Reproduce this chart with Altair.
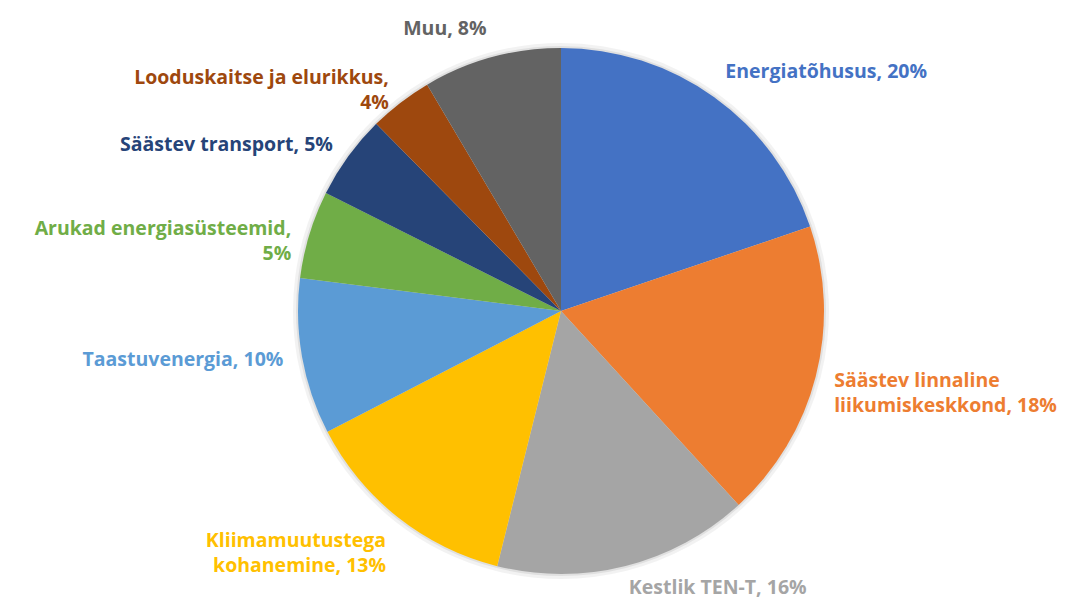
import math
import altair as alt
import pandas as pd

categories = [
    "Energiatõhusus",
    "Säästev linnaline liikumiskeskkond",
    "Kestlik TEN-T",
    "Kliimamuutustega kohanemine",
    "Taastuvenergia",
    "Arukad energiasüsteemid",
    "Säästev transport",
    "Looduskaitse ja elurikkus",
    "Muu",
]
shares = [19.8, 18.4, 15.7, 13.5, 9.6, 5.4, 5.2, 3.9, 8.5]
labels = [
    "Energiatõhusus, 20%",
    "Säästev linnaline\nliikumiskeskkond, 18%",
    "Kestlik TEN-T, 16%",
    "Kliimamuutustega\nkohanemine, 13%",
    "Taastuvenergia, 10%",
    "Arukad energiasüsteemid,\n5%",
    "Säästev transport, 5%",
    "Looduskaitse ja elurikkus,\n4%",
    "Muu, 8%",
]
colors = ["#4472C4", "#ED7D31", "#A5A5A5", "#FFC000", "#5B9BD5",
          "#70AD47", "#264478", "#9E480E", "#636363"]

df = pd.DataFrame({
    "category": categories,
    "share": shares,
    "label": labels,
    "order": list(range(len(categories))),
})

color_scale = alt.Scale(domain=categories, range=colors)
FONT = "Open Sans"
FS = 19.5

base = alt.Chart(df)

shadow1 = base.mark_arc(radius=268, color="#000000", opacity=0.05).encode(
    theta=alt.Theta("share:Q", stack=True),
    order=alt.Order("order:Q"),
)
shadow2 = base.mark_arc(radius=265, color="#000000", opacity=0.07).encode(
    theta=alt.Theta("share:Q", stack=True),
    order=alt.Order("order:Q"),
)

pie = base.mark_arc(radius=263).encode(
    theta=alt.Theta("share:Q", stack=True),
    color=alt.Color("category:N", scale=color_scale, legend=None),
    order=alt.Order("order:Q"),
)

lab_base = base.transform_window(
    cum="sum(share)", sort=[alt.SortField("order")]
).transform_calculate(
    mid="datum.cum - datum.share / 2"
)

theta_lab = alt.Theta("mid:Q", scale=alt.Scale(domain=[0, 100], range=[0, 2 * math.pi]))


def zone(lo, hi, align, baseline, radius=282):
    return lab_base.transform_filter(
        f"datum.mid >= {lo} && datum.mid < {hi}"
    ).mark_text(
        radius=radius, align=align, baseline=baseline, font=FONT, fontSize=FS,
        fontWeight="bold", lineBreak="\n", lineHeight=25,
    ).encode(
        theta=theta_lab,
        text="label:N",
        color=alt.Color("category:N", scale=color_scale, legend=None),
    )


texts = [
    zone(0, 15, "left", "bottom"),
    zone(15, 35, "left", "middle"),
    zone(35, 50, "left", "top", 276),
    zone(50, 65, "right", "top"),
    zone(65, 86, "right", "middle"),
    zone(86, 100.1, "right", "bottom"),
]

chart = alt.layer(shadow1, shadow2, pie, *texts).resolve_scale(
    theta="independent"
).properties(
    width=980,
    height=540,
    padding={"left": 63, "top": 33, "right": 19, "bottom": 19},
    autosize=alt.AutoSizeParams(type="none"),
    background="white",
).configure_view(stroke=None)

chart.save("out.html", embed_options={"renderer": "svg", "actions": False})
